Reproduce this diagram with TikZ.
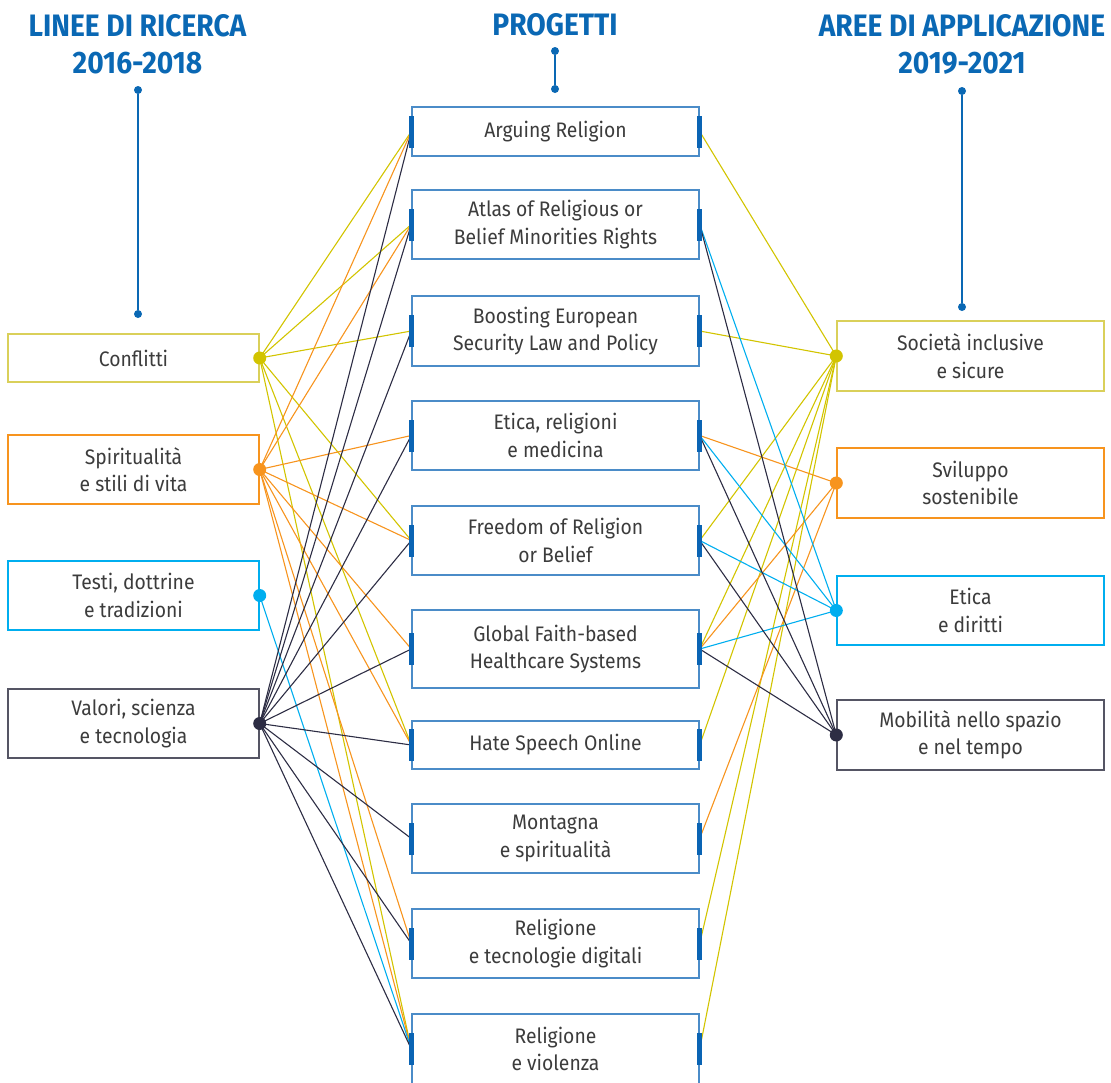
\documentclass[tikz,border=0pt]{standalone}
\usepackage{fontspec}
\setmainfont{Fira Sans}[FakeStretch=0.92]
\newfontfamily\hfont{Fira Sans}[FakeStretch=0.91]
\definecolor{hblue}{RGB}{10,104,180}
\definecolor{barblue}{RGB}{10,100,180}
\definecolor{pborder}{RGB}{75,140,200}
\definecolor{cyel}{RGB}{210,196,0}
\definecolor{cyelb}{RGB}{218,208,90}
\definecolor{cora}{RGB}{247,148,30}
\definecolor{ccya}{RGB}{0,174,239}
\definecolor{cdrk}{RGB}{45,45,68}
\definecolor{cdrkb}{RGB}{85,85,100}
\definecolor{ctxt}{RGB}{60,60,60}
\begin{document}
\begin{tikzpicture}[x=1pt,y=-1pt,
  body/.style={font=\fontsize{21}{27.5}\selectfont, text=ctxt, align=center, inner sep=0pt},
  proj/.style={body, draw=pborder, line width=1.4pt, fill=white, minimum width=287pt},
  lbox/.style={body, line width=1.4pt, fill=white, minimum width=251pt},
  rbox/.style={body, line width=1.4pt, fill=white, minimum width=267pt},
  head/.style={font=\hfont\bfseries\fontsize{31}{37}\selectfont, text=hblue, inner sep=0pt, anchor=base},
  hdot/.style={circle, fill=hblue, inner sep=0pt, minimum size=8pt},
  barnode/.style={rectangle, fill=barblue, inner sep=0pt, minimum width=5pt, minimum height=32pt},
  conn/.style={line width=1.1pt},
]
\useasboundingbox (0,0) rectangle (1111,1082);
\clip (0,0) rectangle (1111,1082);

% headers
\node[head] (h1a) at (137.5,36) {LINEE DI RICERCA};
\node[head] (h1b) at (137.5,73) {2016-2018};
\node[head] (h2a) at (555,35) {PROGETTI};
\node[head] (h3a) at (962,36) {AREE DI APPLICAZIONE};
\node[head] (h3b) at (962,73) {2019-2021};
\node[hdot] (d1a) at (138,90) {};
\node[hdot] (d1b) at (138,314) {};
\node[hdot] (d2a) at (555,51) {};
\node[hdot] (d2b) at (555,89) {};
\node[hdot] (d3a) at (962,91) {};
\node[hdot] (d3b) at (962,307) {};
\draw[hblue, line width=1.5pt] (d1a) -- (d1b);
\draw[hblue, line width=1.5pt] (d2a) -- (d2b);
\draw[hblue, line width=1.5pt] (d3a) -- (d3b);

% left boxes
\node[lbox, draw=cyelb, minimum height=48pt] (l1) at (133.5,358) {Conflitti};
\node[lbox, draw=cora, minimum height=69pt] (l2) at (133.5,469.5) {Spiritualità\\e stili di vita};
\node[lbox, draw=ccya, minimum height=69pt] (l3) at (133.5,595.5) {Testi, dottrine\\e tradizioni};
\node[lbox, draw=cdrkb, minimum height=69pt] (l4) at (133.5,723.5) {Valori, scienza\\e tecnologia};

% projects
\node[proj, minimum height=49pt] (p1) at (555.5,131.5) {Arguing Religion};
\node[proj, minimum height=69pt] (p2) at (555.5,224.5) {Atlas of Religious or\\Belief Minorities Rights};
\node[proj, minimum height=70pt] (p3) at (555.5,331) {Boosting European\\Security Law and Policy};
\node[proj, minimum height=69pt] (p4) at (555.5,435.5) {Etica, religioni\\e medicina};
\node[proj, minimum height=69pt] (p5) at (555.5,540.5) {Freedom of Religion\\or Belief};
\node[proj, minimum height=78pt] (p6) at (555.5,649) {Global Faith-based\\Healthcare Systems};
\node[proj, minimum height=48pt] (p7) at (555.5,745) {Hate Speech Online};
\node[proj, minimum height=69pt] (p8) at (555.5,838.5) {Montagna\\e spiritualità};
\node[proj, minimum height=69pt] (p9) at (555.5,943.5) {Religione\\e tecnologie digitali};
\node[proj, minimum height=70pt] (p10) at (555.5,1049) {Religione\\e violenza};

% right boxes
\node[rbox, draw=cyelb, minimum height=70pt] (r1) at (970.5,356) {Società inclusive\\e sicure};
\node[rbox, draw=cora, minimum height=70pt] (r2) at (970.5,483) {Sviluppo\\sostenibile};
\node[rbox, draw=ccya, minimum height=69pt] (r3) at (970.5,610.5) {Etica\\e diritti};
\node[rbox, draw=cdrkb, minimum height=70pt] (r4) at (970.5,735) {Mobilità nello spazio\\e nel tempo};

% left connectors
\foreach \p in {p1,p2,p3,p5,p7,p10} \draw[conn, cyel] (l1.east) -- (\p.west);
\foreach \p in {p1,p2,p4,p5,p6,p7,p9,p10} \draw[conn, cora] (l2.east) -- (\p.west);
\draw[conn, ccya] (l3.east) -- (p10.west);
\foreach \p in {p1,p2,p3,p4,p5,p6,p7,p8,p9,p10} \draw[conn, cdrk] (l4.east) -- (\p.west);

% right connectors
\foreach \p in {p1,p3,p5,p6,p7,p9,p10} \draw[conn, cyel] (\p.east) -- (r1.west);
\foreach \p in {p4,p6,p8} \draw[conn, cora] (\p.east) -- (r2.west);
\foreach \p in {p2,p4,p5,p6} \draw[conn, ccya] (\p.east) -- (r3.west);
\foreach \p in {p2,p4,p5,p6} \draw[conn, cdrk] (\p.east) -- (r4.west);

% bars
\foreach \i in {1,...,10} {
  \node[barnode] (bl\i) at (p\i.west) {};
  \node[barnode] (br\i) at (p\i.east) {};
}

% dots
\fill[cyel] (l1.east) circle[radius=6.5pt];
\fill[cora] (l2.east) circle[radius=6.5pt];
\fill[ccya] (l3.east) circle[radius=6.5pt];
\fill[cdrk] (l4.east) circle[radius=6.5pt];
\fill[cyel] (r1.west) circle[radius=6.5pt];
\fill[cora] (r2.west) circle[radius=6.5pt];
\fill[ccya] (r3.west) circle[radius=6.5pt];
\fill[cdrk] (r4.west) circle[radius=6.5pt];
\end{tikzpicture}
\end{document}
